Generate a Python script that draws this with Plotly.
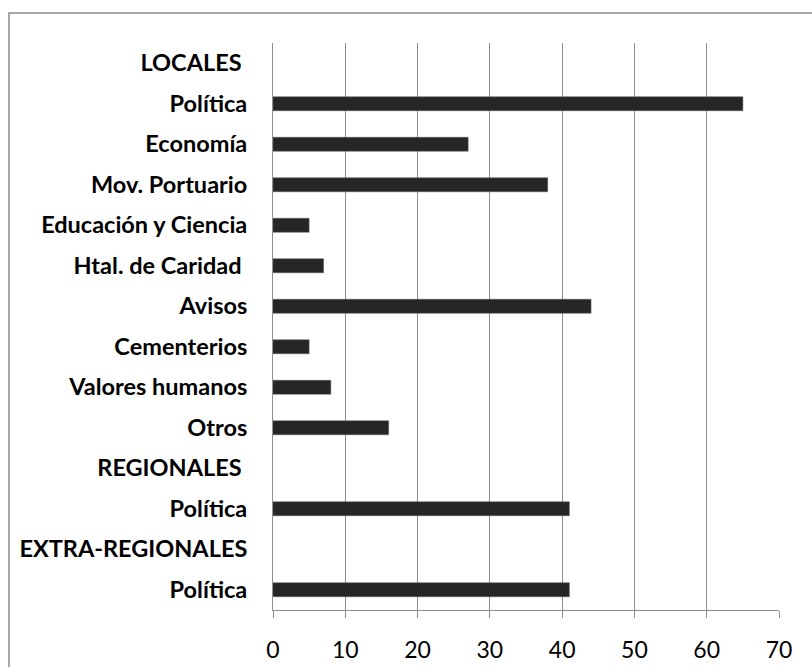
import plotly.graph_objects as go

# Row labels (top to bottom); section headers carry no value
labels = [
    "LOCALES\u00a0", "Política", "Economía", "Mov. Portuario",
    "Educación y Ciencia", "Htal. de Caridad\u00a0", "Avisos", "Cementerios",
    "Valores humanos", "Otros", "REGIONALES\u00a0", "Política",
    "EXTRA-REGIONALES", "Política",
]
values = [None, 65, 27, 38, 5, 7, 44, 5, 8, 16, None, 41, None, 41]
x_ticks = [0, 10, 20, 30, 40, 50, 60, 70]

positions = list(range(len(labels)))

fig = go.Figure(
    go.Bar(
        x=values,
        y=positions,
        orientation="h",
        width=0.345,
        marker=dict(color="#262626", line=dict(color="#5a5a5a", width=0.5)),
        hoverinfo="skip",
    )
)

grid = "#8f8f8f"
fig.update_layout(
    width=812,
    height=667,
    margin=dict(l=273, r=33, t=43, b=57),
    paper_bgcolor="white",
    plot_bgcolor="white",
    showlegend=False,
    font=dict(family="Lato, 'Open Sans', sans-serif", color="black"),
    xaxis=dict(
        range=[0, 70],
        tickvals=x_ticks,
        showgrid=True,
        gridcolor=grid,
        gridwidth=1,
        showline=True,
        linecolor=grid,
        linewidth=1,
        ticks="outside",
        ticklen=7,
        tickcolor=grid,
        tickfont=dict(size=23, family="Lato, sans-serif"),
        ticklabelstandoff=12,
        automargin=False,
        zeroline=False,
        fixedrange=True,
    ),
    yaxis=dict(
        range=[len(labels) - 0.5, -0.5],
        tickvals=positions,
        ticktext=["<b>%s</b>" % t for t in labels],
        tickfont=dict(size=23.5, family="Lato, sans-serif"),
        showgrid=False,
        showline=True,
        linecolor=grid,
        linewidth=1,
        ticks="",
        ticklabelstandoff=20,
        automargin=False,
        zeroline=False,
        fixedrange=True,
    ),
    shapes=[
        dict(
            type="rect", xref="paper", yref="paper",
            x0=-0.5217, x1=1.1, y0=-0.13, y1=1.0529,
            line=dict(color="#8a8a8a", width=1.5),
            fillcolor="rgba(0,0,0,0)", layer="below",
        )
    ],
)

fig.write_html("out.html")
